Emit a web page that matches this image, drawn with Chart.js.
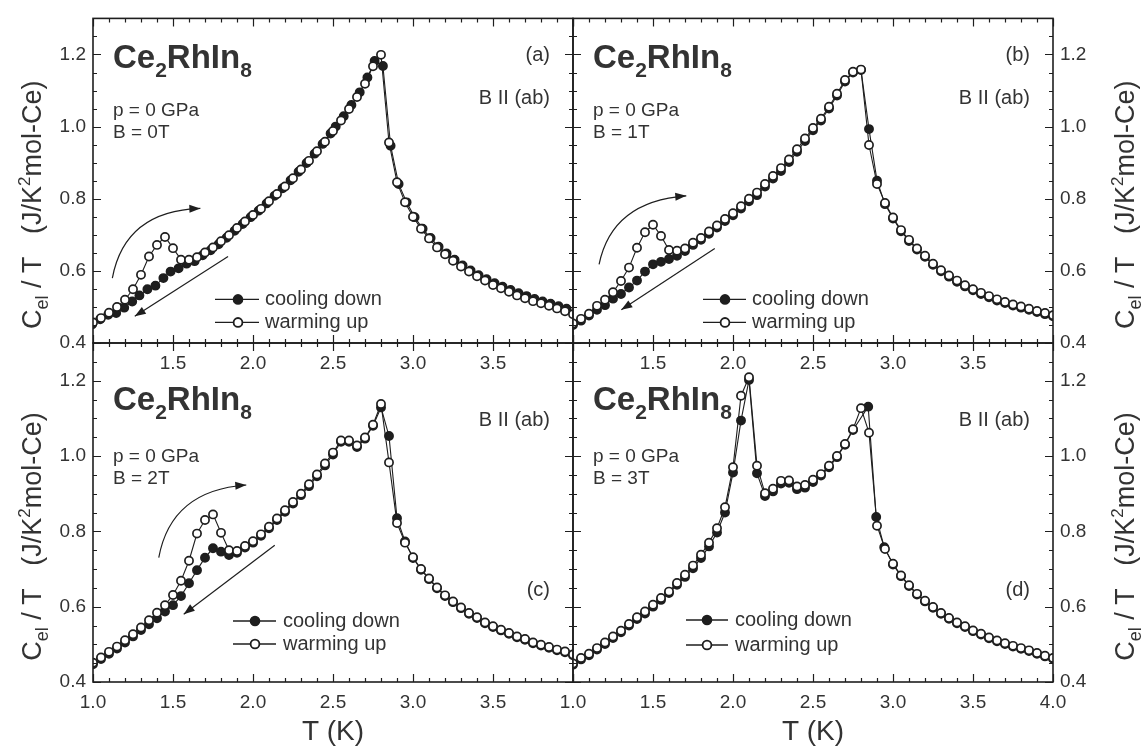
<!DOCTYPE html>
<html><head><meta charset="utf-8">
<script src="https://cdn.jsdelivr.net/npm/chart.js@4.4.1/dist/chart.umd.min.js"></script>
<style>
html,body{margin:0;padding:0;background:#fff;}
#wrap{position:relative;width:1144px;height:753px;overflow:hidden;background:#fff;}
canvas{position:absolute;left:0;top:0;}
</style></head><body>
<div id="wrap">
<canvas id="ca" width="1144" height="753"></canvas>
<canvas id="cb" width="1144" height="753"></canvas>
<canvas id="cc" width="1144" height="753"></canvas>
<canvas id="cd" width="1144" height="753"></canvas>
</div>
<script>
// ---------------- DATA ----------------
const T_GRID = [1.00,1.05,1.10,1.15,1.20,1.25,1.30,1.35,1.40,1.45,
 1.50,1.55,1.60,1.65,1.70,1.75,1.80,1.85,1.90,1.95,
 2.00,2.05,2.10,2.15,2.20,2.25,2.30,2.35,2.40,2.45,
 2.50,2.55,2.60,2.65,2.70,2.75,2.80,2.85,2.90,2.95,
 3.00,3.05,3.10,3.15,3.20,3.25,3.30,3.35,3.40,3.45,
 3.50,3.55,3.60,3.65,3.70,3.75,3.80,3.85,3.90,3.95,
 4.00];

// (a) B = 0T
const A_WARM = [0.457,0.469,0.484,0.500,0.520,0.549,0.589,0.640,0.672,0.694,
 0.663,0.631,0.631,0.638,0.651,0.665,0.682,0.699,0.719,0.737,
 0.755,0.772,0.793,0.813,0.834,0.857,0.881,0.905,0.932,0.958,
 0.988,1.017,1.049,1.082,1.119,1.167,1.199,0.956,0.846,0.790,
 0.750,0.717,0.690,0.665,0.646,0.628,0.612,0.598,0.585,0.573,
 0.561,0.552,0.542,0.532,0.524,0.516,0.510,0.503,0.496,0.488,
 0.480];
const A_COOL_T = [0.995,1.045,1.095,1.145,1.195,1.245,1.290,1.340,1.390,1.440,
 1.485,1.535,1.585,1.635,1.685,1.735,1.785,1.835,1.885,1.935,
 1.985,2.035,2.085,2.135,2.185,2.235,2.285,2.335,2.385,2.435,
 2.485,2.517,2.567,2.615,2.667,2.715,2.760,2.812,2.860,2.910,
 2.960,3.010,3.060,3.110,3.160,3.210,3.260,3.310,3.360,3.410,
 3.460,3.510,3.560,3.610,3.660,3.710,3.760,3.810,3.860,3.910,
 3.960];
const A_COOL = [0.452,0.466,0.478,0.483,0.498,0.515,0.532,0.549,0.559,0.580,
 0.598,0.607,0.620,0.627,0.643,0.657,0.674,0.692,0.711,0.730,
 0.749,0.767,0.787,0.808,0.829,0.851,0.875,0.899,0.925,0.952,
 0.981,1.000,1.029,1.060,1.095,1.136,1.182,1.168,0.947,0.841,
 0.790,0.749,0.717,0.691,0.667,0.648,0.631,0.615,0.601,0.588,
 0.577,0.566,0.556,0.547,0.538,0.530,0.522,0.515,0.509,0.502,
 0.495];

// (b) B = 1T
const B_WARM = [0.454,0.467,0.481,0.503,0.520,0.541,0.572,0.609,0.664,0.707,
 0.728,0.697,0.658,0.656,0.662,0.678,0.691,0.709,0.726,0.744,
 0.760,0.779,0.800,0.817,0.841,0.863,0.885,0.909,0.937,0.967,
 0.996,1.022,1.055,1.091,1.129,1.152,1.158,0.949,0.841,0.788,
 0.748,0.713,0.686,0.662,0.642,0.620,0.602,0.587,0.573,0.560,
 0.549,0.539,0.530,0.521,0.514,0.507,0.501,0.495,0.489,0.483,
 0.477];
const B_COOL = [0.450,0.462,0.476,0.492,0.505,0.523,0.536,0.554,0.573,0.598,
 0.618,0.625,0.633,0.642,0.655,0.672,0.686,0.703,0.720,0.738,
 0.754,0.773,0.793,0.810,0.834,0.856,0.877,0.902,0.930,0.960,
 0.990,1.017,1.050,1.086,1.125,1.150,1.157,0.993,0.850,0.785,
 0.745,0.710,0.683,0.659,0.639,0.617,0.599,0.584,0.570,0.557,
 0.546,0.536,0.527,0.518,0.511,0.504,0.498,0.492,0.486,0.480,
 0.474];

// (c) B = 2T
const C_WARM = [0.451,0.465,0.480,0.494,0.511,0.527,0.545,0.564,0.584,0.604,
 0.631,0.669,0.722,0.794,0.830,0.845,0.796,0.750,0.748,0.761,
 0.774,0.792,0.812,0.834,0.856,0.878,0.900,0.925,0.951,0.980,
 1.009,1.041,1.041,1.028,1.049,1.083,1.138,0.983,0.822,0.770,
 0.731,0.700,0.675,0.651,0.630,0.614,0.598,0.583,0.572,0.558,
 0.548,0.539,0.530,0.521,0.514,0.505,0.499,0.493,0.486,0.481,
 0.473];
const C_COOL = [0.447,0.461,0.475,0.489,0.505,0.521,0.538,0.553,0.569,0.587,
 0.604,0.628,0.662,0.697,0.730,0.755,0.746,0.737,0.743,0.757,
 0.770,0.788,0.808,0.830,0.852,0.874,0.896,0.920,0.946,0.975,
 1.004,1.038,1.038,1.024,1.046,1.080,1.129,1.053,0.835,0.773,
 0.729,0.698,0.673,0.649,0.628,0.612,0.596,0.581,0.570,0.556,
 0.546,0.537,0.528,0.519,0.512,0.503,0.497,0.491,0.484,0.479,
 0.471];

// (d) B = 3T
const D_WARM = [0.449,0.464,0.475,0.490,0.505,0.521,0.536,0.554,0.572,0.587,
 0.605,0.623,0.640,0.663,0.685,0.709,0.738,0.770,0.808,0.864,
 0.970,1.160,1.209,0.974,0.901,0.913,0.934,0.935,0.919,0.923,
 0.937,0.952,0.974,1.000,1.032,1.071,1.127,1.062,0.815,0.753,
 0.714,0.683,0.657,0.634,0.616,0.599,0.583,0.570,0.558,0.548,
 0.537,0.528,0.518,0.510,0.503,0.496,0.490,0.484,0.477,0.470,
 0.464];
const D_COOL_T = [1.00,1.05,1.10,1.15,1.20,1.25,1.30,1.35,1.40,1.45,
 1.50,1.55,1.60,1.65,1.70,1.75,1.80,1.85,1.90,1.95,
 2.00,2.05,2.10,2.15,2.20,2.25,2.30,2.35,2.40,2.45,
 2.50,2.55,2.60,2.65,2.70,2.75,
 2.845,2.895,2.945,
 3.00,3.05,3.10,3.15,3.20,3.25,3.30,3.35,3.40,3.45,
 3.50,3.55,3.60,3.65,3.70,3.75,3.80,3.85,3.90,3.95,
 4.00];
const D_COOL = [0.446,0.460,0.471,0.486,0.501,0.517,0.532,0.550,0.567,0.582,
 0.600,0.618,0.636,0.658,0.679,0.702,0.729,0.760,0.797,0.850,
 0.956,1.094,1.202,0.954,0.894,0.906,0.927,0.929,0.912,0.916,
 0.931,0.948,0.970,0.997,1.030,1.069,
 1.131,0.838,0.758,
 0.712,0.681,0.655,0.632,0.614,0.597,0.581,0.568,0.556,0.546,
 0.535,0.526,0.516,0.508,0.501,0.494,0.488,0.482,0.475,0.468,
 0.462];

// tick labels
const X_LABELS_TOP = [1.5,2.0,2.5,3.0,3.5];
const X_LABELS_BL  = [1.0,1.5,2.0,2.5,3.0,3.5];
const X_LABELS_BR  = [1.0,1.5,2.0,2.5,3.0,3.5,4.0];
const Y_LABELS = [0.4,0.6,0.8,1.0,1.2];
const FIELDS = ['B = 0T','B = 1T','B = 2T','B = 3T'];
const LETTERS = ['(a)','(b)','(c)','(d)'];
const SERIES_NAMES = ['cooling down','warming up'];

// arrows in data coordinates
const ARROWS_A = [{s:[1.121,0.580],c:[1.200,0.766],e:[1.671,0.773]},{s:[1.844,0.640],e:[1.261,0.474]}];
const ARROWS_B = [{s:[1.163,0.618],c:[1.244,0.793],e:[1.708,0.808]},{s:[1.886,0.662],e:[1.302,0.492]}];
const ARROWS_C = [{s:[1.411,0.730],c:[1.488,0.909],e:[1.958,0.923]},{s:[2.136,0.763],e:[1.567,0.580]}];

// ---------------- RENDER ----------------
const FONT = "'Liberation Sans', Arial, Helvetica, sans-serif";
Chart.defaults.font.family = FONT;
const INK = '#1e1e1e';
const TXT = '#333333';

function pts(xs, ys){ return xs.map((x,i)=>({x:x, y:ys[i]})); }

function richText(ctx, x, y, parts, align){
  let total = 0;
  parts.forEach(p=>{ ctx.font = (p.b?'bold ':'') + p.s + 'px ' + FONT; p.w = ctx.measureText(p.t).width; total += p.w; });
  let cx = align==='right' ? x-total : align==='center' ? x-total/2 : x;
  ctx.textAlign = 'left';
  parts.forEach(p=>{ ctx.font = (p.b?'bold ':'') + p.s + 'px ' + FONT; ctx.fillText(p.t, cx, y + (p.dy||0)); cx += p.w; });
}

function makeAnnot(p){
  return {
    id: 'annot_' + p.canvas,
    afterDraw(chart){
      const ctx = chart.ctx, ca = chart.chartArea, X = chart.scales.x, Y = chart.scales.y;
      const L = ca.left, R = ca.right, T = ca.top, B = ca.bottom;
      ctx.save();
      // inward ticks
      ctx.strokeStyle = INK; ctx.lineWidth = 1.2;
      ctx.beginPath();
      for (let k=0;k<=30;k++){
        const px = Math.round(X.getPixelForValue(1+k/10))+0.5, len = (k%5===0)?8:4;
        ctx.moveTo(px,B); ctx.lineTo(px,B-len); ctx.moveTo(px,T); ctx.lineTo(px,T+len);
      }
      for (let k=0;k<18;k++){
        const py = Math.round(Y.getPixelForValue(0.4+k*0.05))+0.5, len = (k%4===0)?8:4;
        ctx.moveTo(L,py); ctx.lineTo(L+len,py); ctx.moveTo(R,py); ctx.lineTo(R-len,py);
      }
      ctx.stroke();
      ctx.lineWidth = 1.6; ctx.strokeRect(L, T, R-L, B-T);

      // texts
      ctx.fillStyle = TXT; ctx.textBaseline = 'alphabetic';
      richText(ctx, L+20, T+p.titleDy, [
        {t:'Ce',s:33,b:1},{t:'2',s:21,b:1,dy:9},{t:'RhIn',s:33,b:1},{t:'8',s:21,b:1,dy:9}], 'left');
      ctx.font = '19px ' + FONT; ctx.textAlign = 'left';
      ctx.fillText('p = 0 GPa', L+20, T+p.pDy);
      ctx.fillText(p.field, L+20, T+p.pDy+22);
      ctx.font = '20px ' + FONT; ctx.textAlign = 'right';
      ctx.fillText(p.letter, R-23, T+p.letterDy);
      ctx.fillText('B II (ab)', R-23, T+p.abDy);

      // legend
      const ents = [{fill:INK, dy:p.legY[0], label:SERIES_NAMES[0]},{fill:'#fff', dy:p.legY[1], label:SERIES_NAMES[1]}];
      ents.forEach(e=>{
        const y = T + e.dy;
        ctx.strokeStyle = INK; ctx.lineWidth = 1.3;
        ctx.beginPath(); ctx.moveTo(L+p.legX[0], y); ctx.lineTo(L+p.legX[1], y); ctx.stroke();
        ctx.beginPath(); ctx.arc(L+p.legX[2], y, 4.4, 0, Math.PI*2);
        ctx.fillStyle = e.fill; ctx.fill(); ctx.lineWidth = 1.8; ctx.stroke();
        ctx.fillStyle = TXT; ctx.font = '20px ' + FONT; ctx.textAlign = 'left'; ctx.textBaseline = 'middle';
        ctx.fillText(e.label, L+p.legX[3], y);
      });
      ctx.textBaseline = 'alphabetic';

      // arrows
      (p.arrows||[]).forEach(a=>{
        const sx = X.getPixelForValue(a.s[0]), sy = Y.getPixelForValue(a.s[1]);
        const ex = X.getPixelForValue(a.e[0]), ey = Y.getPixelForValue(a.e[1]);
        ctx.strokeStyle = INK; ctx.fillStyle = INK; ctx.lineWidth = 1.2;
        ctx.beginPath(); ctx.moveTo(sx, sy);
        let dx, dy;
        if (a.c){
          const cx = X.getPixelForValue(a.c[0]), cy = Y.getPixelForValue(a.c[1]);
          ctx.quadraticCurveTo(cx, cy, ex, ey); dx = ex-cx; dy = ey-cy;
        } else { ctx.lineTo(ex, ey); dx = ex-sx; dy = ey-sy; }
        ctx.stroke();
        const ang = Math.atan2(dy, dx), hl = 11, hw = 4;
        ctx.beginPath();
        ctx.moveTo(ex, ey);
        ctx.lineTo(ex - hl*Math.cos(ang) + hw*Math.sin(ang), ey - hl*Math.sin(ang) - hw*Math.cos(ang));
        ctx.lineTo(ex - hl*Math.cos(ang) - hw*Math.sin(ang), ey - hl*Math.sin(ang) + hw*Math.cos(ang));
        ctx.closePath(); ctx.fill();
      });

      // axis titles
      ctx.fillStyle = TXT;
      const ytx = p.col===0 ? 41 : 1134;
      ctx.save(); ctx.translate(ytx, (T+B)/2 + 24); ctx.rotate(-Math.PI/2);
      richText(ctx, 0, 0, [{t:'C',s:27},{t:'el',s:18,dy:7},{t:' / T   (J/K',s:27},{t:'2',s:17,dy:-11},{t:'mol-Ce)',s:27}], 'center');
      ctx.restore();
      if (p.row===1){
        ctx.font = '28px ' + FONT; ctx.textAlign = 'center';
        ctx.fillText('T (K)', (L+R)/2, B+58);
      }
      ctx.restore();
    }
  };
}

const PANELS = [
  {canvas:'ca', col:0, row:0, warmT:T_GRID, warm:A_WARM, coolT:A_COOL_T, cool:A_COOL, xLabels:X_LABELS_TOP,
   field:FIELDS[0], letter:LETTERS[0], titleDy:50, pDy:98, letterDy:43, abDy:86, legY:[281,304], legX:[122,166,145,172], arrows:ARROWS_A},
  {canvas:'cb', col:1, row:0, warmT:T_GRID, warm:B_WARM, coolT:T_GRID, cool:B_COOL, xLabels:X_LABELS_TOP,
   field:FIELDS[1], letter:LETTERS[1], titleDy:50, pDy:98, letterDy:43, abDy:86, legY:[281,304], legX:[130,173,152,179], arrows:ARROWS_B},
  {canvas:'cc', col:0, row:1, warmT:T_GRID, warm:C_WARM, coolT:T_GRID, cool:C_COOL, xLabels:X_LABELS_BL,
   field:FIELDS[2], letter:LETTERS[2], titleDy:67, pDy:119, letterDy:253, abDy:83, legY:[278,301], legX:[140,183,162,190], arrows:ARROWS_C},
  {canvas:'cd', col:1, row:1, warmT:T_GRID, warm:D_WARM, coolT:D_COOL_T, cool:D_COOL, xLabels:X_LABELS_BR,
   field:FIELDS[3], letter:LETTERS[3], titleDy:67, pDy:119, letterDy:253, abDy:83, legY:[277,302], legX:[113,155,134,162], arrows:[]}
];

function makeChart(p){
  const left = p.col===0, top = p.row===0;
  const padding = {left: left?33:573, right: left?571:31, top: top?3:343, bottom: top?370:31};
  const common = {showLine:true, borderColor:INK, borderWidth:1.1, pointRadius:4.1, pointBorderWidth:1.7,
                  pointBorderColor:INK, tension:0, fill:false};
  new Chart(document.getElementById(p.canvas), {
    type:'line',
    data:{datasets:[
      Object.assign({label:SERIES_NAMES[1], data:pts(p.warmT,p.warm), pointBackgroundColor:'#ffffff'}, common),
      Object.assign({label:SERIES_NAMES[0], data:pts(p.coolT,p.cool), pointBackgroundColor:INK}, common)
    ]},
    options:{
      responsive:false, animation:false, devicePixelRatio:1, events:[],
      layout:{padding},
      plugins:{legend:{display:false}, tooltip:{enabled:false}},
      scales:{
        x:{type:'linear', min:1, max:4, position:'bottom',
           grid:{display:false, drawTicks:false}, border:{display:false},
           ticks:{color:TXT, font:{size:19}, padding:9, maxRotation:0, autoSkip:false, callback:v=>Number(v).toFixed(1)},
           afterBuildTicks:s=>{ s.ticks = p.xLabels.map(v=>({value:v})); },
           afterFit:s=>{ s.height = 40; }},
        y:{type:'linear', min:0.4, max:1.3, position: left?'left':'right',
           grid:{display:false, drawTicks:false}, border:{display:false},
           ticks:{color:TXT, font:{size:19}, padding:7, callback:v=>Number(v).toFixed(1)},
           afterBuildTicks:s=>{ s.ticks = Y_LABELS.map(v=>({value:v})); },
           afterFit:s=>{ s.width = 60; }}
      }
    },
    plugins:[makeAnnot(p)]
  });
}
PANELS.forEach(makeChart);
</script>
</body></html>
